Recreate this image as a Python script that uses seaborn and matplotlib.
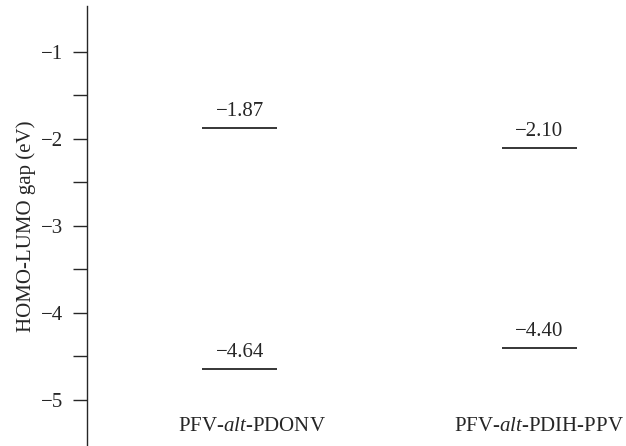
import numpy as np
import pandas as pd
import matplotlib
matplotlib.use("Agg")
import matplotlib.pyplot as plt
import seaborn as sns
from matplotlib.ticker import FixedLocator

polymers = ["PFV-$\\it{alt}$-PDONV", "PFV-$\\it{alt}$-PDIH-PPV"]
lumo = [-1.87, -2.10]
homo = [-4.64, -4.40]
yticks = [-1, -2, -3, -4, -5]

df = pd.DataFrame({
    "pos": list(range(len(polymers))) * 2,
    "energy": lumo + homo,
})

sns.set_style("ticks")
plt.rcParams["font.family"] = ["Liberation Serif", "DejaVu Serif"]
plt.rcParams["mathtext.fontset"] = "custom"
plt.rcParams["mathtext.rm"] = "Liberation Serif"
plt.rcParams["mathtext.it"] = "Liberation Serif:italic"

fs = 15
fig = plt.figure(figsize=(6.26, 4.46), dpi=100)
ax = fig.add_axes([0.139, 0.0, 0.861, 0.987])

half = 0.125
ax.hlines(df["energy"], df["pos"] - half, df["pos"] + half, color="black", lw=1.1)
for _, r in df.iterrows():
    ax.annotate(f"\u2212{abs(r['energy']):.2f}", (r["pos"], r["energy"]),
                xytext=(0, 5), textcoords="offset points",
                ha="center", va="bottom", fontsize=fs)

# category names sit just above the bottom of the axis
label_shift = [0.04, 0.0]
for i, name in enumerate(polymers):
    ax.text(i + label_shift[i], -5.31, name, ha="center", va="center", fontsize=fs)

ax.set_xlim(-0.51, 1.29)
ax.set_ylim(-5.53, -0.47)
ax.set_yticks(yticks)
ax.set_yticklabels([f"\u2212{abs(t)}" for t in yticks])
ax.yaxis.set_minor_locator(FixedLocator([t - 0.5 for t in yticks[:-1]]))
ax.tick_params(axis="y", which="both", length=10, width=1, labelsize=fs,
               direction="out", pad=7)
ax.set_xticks([])
ax.set_ylabel("HOMO-LUMO gap (eV)", fontsize=fs, labelpad=4)
sns.despine(ax=ax, bottom=True)
ax.spines["left"].set_linewidth(1)

fig.savefig("out.png", dpi=100)
